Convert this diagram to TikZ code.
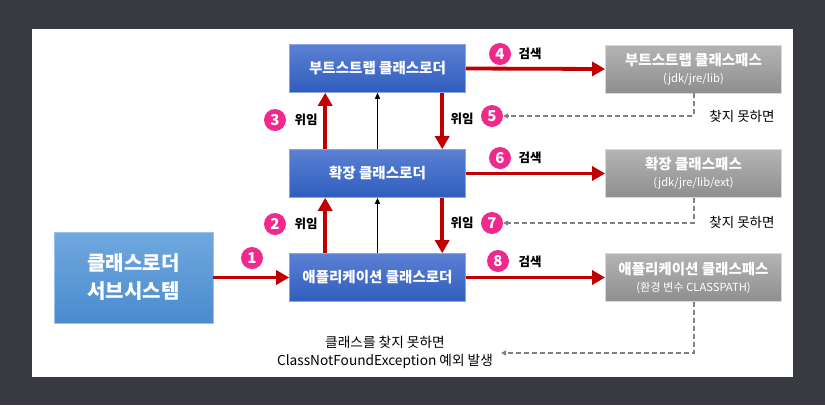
\documentclass[tikz,border=0pt]{standalone}
\usepackage{fontspec}
\setmainfont{Noto Sans CJK KR}
\usetikzlibrary{arrows.meta}
\definecolor{bgdark}{HTML}{373A3F}
\definecolor{redline}{HTML}{C00000}
\definecolor{pinkc}{HTML}{F02A8C}
\definecolor{dashgray}{HTML}{808080}
\definecolor{bluetop}{HTML}{5C80D3}
\definecolor{bluebot}{HTML}{2F5DBE}
\definecolor{subtop}{HTML}{70A8DE}
\definecolor{subbot}{HTML}{4A8BCF}
\definecolor{graytop}{HTML}{B4B4B4}
\definecolor{graybot}{HTML}{8E8E8E}
\newcommand{\cpTitleFont}{\bfseries\fontsize{14.5}{17}\selectfont}
\newcommand{\cpSubFont}{\fontsize{11.2}{17}\selectfont}
\tikzset{
  loaderbox/.style={rectangle, top color=bluetop, bottom color=bluebot, draw=bluetop!70!white, line width=0.6pt,
    minimum width=176pt, minimum height=48pt, inner sep=0pt, text=white, font=\bfseries\fontsize{14.5}{17}\selectfont},
  subbox/.style={rectangle, top color=subtop, bottom color=subbot, draw=subtop!70!white, line width=0.6pt,
    minimum width=159pt, minimum height=91pt, inner sep=0pt, text=white, align=center,
    font=\bfseries\fontsize{20}{28}\selectfont},
  cpbox/.style={rectangle, top color=graytop, bottom color=graybot, draw=graytop!50!white, line width=0.8pt,
    minimum width=176pt, minimum height=48pt, inner sep=0pt, text=white, align=center,
    font=\fontsize{11.2}{17}\selectfont},
  redarrow/.style={draw=redline, line width=3.8pt, -{Triangle[length=13pt,width=14pt]}},
  blackarrow/.style={draw=black, line width=1.3pt, -{Triangle[length=6pt,width=5pt]}},
  dasharrow/.style={draw=dashgray, line width=2pt, dash pattern=on 5pt off 3pt, -{Triangle[length=5pt,width=5pt]}},
  numc/.style={circle, fill=pinkc, minimum size=22pt, inner sep=0pt, text=white, font=\bfseries\fontsize{15}{15}\selectfont},
  actlabel/.style={font=\bfseries\fontsize{12.5}{14}\selectfont, text=black, inner sep=0pt},
  notelabel/.style={font=\fontsize{13.5}{15}\selectfont, text=black, inner sep=0pt}
}
\begin{document}
\begin{tikzpicture}[x=1pt,y=-1pt]
\useasboundingbox (0,0) rectangle (825,405);
\fill[bgdark] (0,0) rectangle (825,405);
\fill[white] (32,29) rectangle (793,377);

% loader boxes
\node[loaderbox] (boot) at (377.5,68.5) {부트스트랩 클래스로더};
\node[loaderbox] (ext) at (377.5,173.5) {확장 클래스로더};
\node[loaderbox] (app) at (377.5,277.5) {애플리케이션 클래스로더};
\node[subbox] (sub) at (133.5,277.5) {클래스로더\\서브시스템};

% classpath boxes
\node[cpbox] (bootcp) at (693.5,69) {{\cpTitleFont 부트스트랩 클래스패스}\\{\cpSubFont (jdk/jre/lib)}};
\node[cpbox] (extcp) at (693.5,173.5) {{\cpTitleFont 확장 클래스패스}\\{\cpSubFont (jdk/jre/lib/ext)}};
\node[cpbox] (appcp) at (693.5,277.5) {{\cpTitleFont 애플리케이션 클래스패스}\\{\cpSubFont (환경 변수 CLASSPATH)}};

% search arrows
\draw[redarrow] (boot.east) -- (bootcp.west);
\draw[redarrow] (ext.east) -- (extcp.west);
\draw[redarrow] (app.east) -- (appcp.west);
\draw[redarrow] (sub.east) -- (app.west);

% delegation arrows
\draw[redarrow] ([xshift=36pt]app.north west) -- ([xshift=36pt]ext.south west);
\draw[redarrow] ([xshift=36pt]ext.north west) -- ([xshift=36pt]boot.south west);
\draw[blackarrow] (app.north) -- (ext.south);
\draw[blackarrow] (ext.north) -- (boot.south);
\draw[redarrow] ([xshift=153pt]boot.south west) -- ([xshift=153pt]ext.north west);
\draw[redarrow] ([xshift=153pt]ext.south west) -- ([xshift=153pt]app.north west);

% numbers
\node[numc] (n1) at (252,258) {1};
\node[numc] (n2) at (275,224) {2};
\node[numc] (n3) at (275,120) {3};
\node[numc] (n4) at (500,54) {4};
\node[numc] (n5) at (492,116) {5};
\node[numc] (n6) at (500,158) {6};
\node[numc] (n7) at (492,223) {7};
\node[numc] (n8) at (498,261) {8};

% labels
\node[actlabel] (l2) at (306,224) {위임};
\node[actlabel] (l3) at (306,120) {위임};
\node[actlabel] (l4) at (530,54) {검색};
\node[actlabel] (l5) at (462,119) {위임};
\node[actlabel] (l6) at (530,158) {검색};
\node[actlabel] (l7) at (462,223) {위임};
\node[actlabel] (l8) at (530,262) {검색};

\node[notelabel] (f5) at (742,116) {찾지 못하면};
\node[notelabel] (f7) at (742,222) {찾지 못하면};

% not found arrows
\draw[dasharrow] (bootcp.south) |- (n5.east);
\draw[dasharrow] (extcp.south) |- (n7.east);
\node[notelabel, align=center, font=\fontsize{13.7}{18}\selectfont] (bt) at (385,352) {클래스를 찾지 못하면\\ClassNotFoundException 예외 발생};
\coordinate (bend) at (501,353);
\draw[dasharrow] (appcp.south) |- (bend);
\end{tikzpicture}
\end{document}
